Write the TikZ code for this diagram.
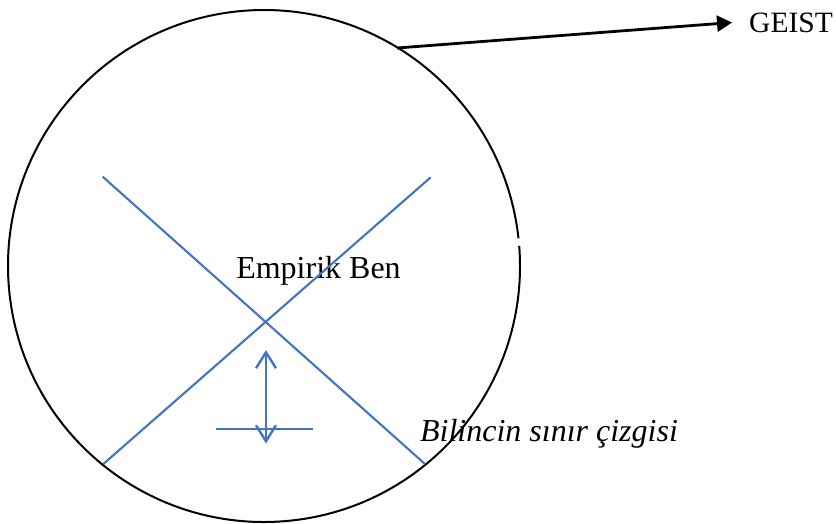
\documentclass[tikz,border=0pt]{standalone}
\usepackage{fontspec}
\setmainfont{Liberation Serif}
\usetikzlibrary{arrows.meta}
\definecolor{lblue}{RGB}{68,114,196}
\tikzset{
  txt/.style={inner sep=0pt, font=\fontsize{32}{38}\selectfont},
  bluel/.style={draw=lblue, line width=2.1pt},
}
\begin{document}
\begin{tikzpicture}[x=1pt,y=-1pt]
\useasboundingbox (0,0) rectangle (836,523);
% circle (with small gap on the right)
\coordinate (c) at (264,266);
\draw[line width=2pt] ([shift={(-4.5:256)}]c) arc[start angle=-4.5, end angle=353.8, radius=256];
% texts
\node[txt, anchor=base] (emp) at (318.5,278) {Empirik Ben};
\node[txt, anchor=base east, font=\fontsize{29.5}{36}\selectfont] (geist) at (833,32) {GEIST};
\node[txt, anchor=base, font=\fontsize{32}{38}\selectfont\itshape] (bil) at (549,441.5) {Bilincin sınır çizgisi};
% arrow to GEIST
\coordinate (start) at (397,48);
\coordinate (tip) at (732,22.5);
\draw[line width=2.8pt, -{Triangle[length=15pt,width=16pt]}] (start) -- (tip);
% blue X
\coordinate (a1) at (102.7,176.7);
\coordinate (a2) at (425,464);
\coordinate (b1) at (430.7,177.3);
\coordinate (b2) at (103.3,464);
\draw[bluel] (a1) -- (a2);
\draw[bluel] (b1) -- (b2);
% double arrow and horizontal line
\coordinate (h1) at (215.7,429);
\coordinate (h2) at (312.7,429);
\draw[bluel] (h1) -- (h2);
\coordinate (v1) at (266,350);
\coordinate (v2) at (266,443.5);
\draw[bluel, line width=2.4pt, {Straight Barb[length=16pt,width=20pt]}-{Straight Barb[length=16pt,width=20pt]}] (v1) -- (v2);
\end{tikzpicture}
\end{document}
